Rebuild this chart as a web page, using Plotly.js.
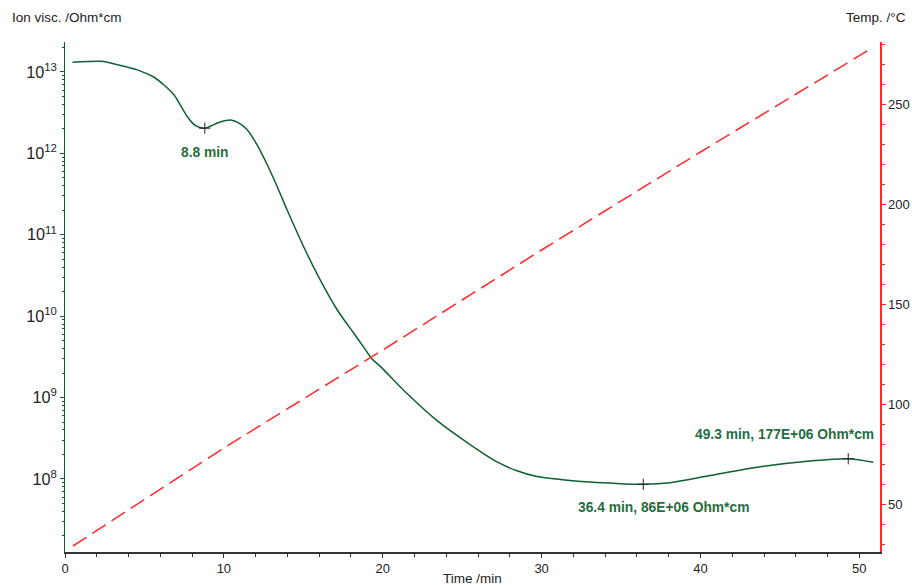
<!DOCTYPE html>
<html>
<head>
<meta charset="utf-8">
<script src="https://cdn.plot.ly/plotly-3.0.1.min.js"></script>
<style>html,body{margin:0;padding:0;background:#fff;}#chart{width:912px;height:585px;}</style>
</head>
<body>
<div id="chart"></div>
<script>
// Ion viscosity curve (time in min, ion viscosity in Ohm*cm)
var timeIV = [0.47,2.25,2.67,3.71,4.55,5.6,6.23,6.86,7.7,8.22,8.8,9.69,10.42,11.05,11.47,12.1,12.73,13.36,13.99,15.03,16.08,17.13,17.55,18.18,18.8,19.3,19.86,21.53,23.42,25.52,27.2,28.45,29.71,31.3,33.27,34.3,36.4,38.1,40.6,43.75,46.9,49.3,50.88];
var ionVisc = [1.32e13,1.35e13,1.32e13,1.175e13,1.06e13,8.61e12,6.92e12,5.25e12,2.82e12,2.19e12,2.04e12,2.40e12,2.57e12,2.29e12,1.95e12,1.26e12,7.24e11,3.89e11,2.0e11,7.08e10,2.75e10,1.20e10,9.1e9,6.17e9,4.17e9,3.02e9,2.40e9,1.12e9,5.2e8,2.63e8,1.62e8,1.26e8,1.07e8,9.8e7,9.1e7,8.9e7,8.6e7,9.0e7,1.10e8,1.41e8,1.66e8,1.77e8,1.60e8];

// Temperature ramp
var timeT = [0.5,10,20,30,40,50.8];
var temp = [29,78,127,177,226,278];

// Marked points
var markTime = [8.8,36.4,49.3];
var markVisc = [2.04e12,8.6e7,1.77e8];
var markLabels = ["8.8 min","36.4 min, 86E+06 Ohm*cm","49.3 min, 177E+06 Ohm*cm"];

var green = '#0f5f32';
var textGreen = '#1f6e3d';
var font = 'Liberation Sans, Arial, sans-serif';

// minor tick positions for log axis (2..9 per decade)
var logMinor = [];
for (var e = 7; e <= 13; e++) { for (var m = 2; m <= 9; m++) { logMinor.push(m * Math.pow(10, e)); } }

var traces = [
  {x: timeIV, y: ionVisc, type:'scatter', mode:'lines', line:{color:green, width:1.5, shape:'spline', smoothing:0.8}, yaxis:'y', hoverinfo:'none'},
  {x: timeT, y: temp, type:'scatter', mode:'lines', line:{color:'#ff2a2a', width:1.5, dash:'16px,7px'}, yaxis:'y2', hoverinfo:'none'},
  {x: markTime, y: markVisc, type:'scatter', mode:'markers', marker:{symbol:'cross-thin', size:8, color:'#222', line:{color:'#222', width:1}}, yaxis:'y', hoverinfo:'none'},
  {x: [null], y: [null], type:'scatter', mode:'lines', yaxis:'y3', hoverinfo:'none'}
];

var shifts = [[0,-24],[20,-23],[-64,24]];
var annotations = markLabels.map(function(t,i){
  return {x: markTime[i], y: Math.log10(markVisc[i]), xref:'x', yref:'y', text: t, showarrow:false,
    xshift: shifts[i][0], yshift: shifts[i][1], xanchor:'center', yanchor:'middle',
    font:{family:font, size:13.8, color:textGreen, weight:'bold'}};
});
annotations.push({xref:'paper', yref:'paper', x:-0.0675, y:1.049, xanchor:'left', yanchor:'middle', text:'Ion visc. /Ohm*cm', showarrow:false, font:{family:font, size:13.5, color:'#222'}});
annotations.push({xref:'paper', yref:'paper', x:1.0344, y:1.049, xanchor:'right', yanchor:'middle', text:'Temp. /°C', showarrow:false, font:{family:font, size:13.5, color:'#222'}});
annotations.push({xref:'paper', yref:'paper', x:0.5006, y:-0.052, xanchor:'center', yanchor:'middle', text:'Time /min', showarrow:false, font:{family:font, size:13.5, color:'#222'}});

var yRange = [7.103,13.368];
var layout = {
  width:912, height:585,
  margin:{l:65, r:32, t:42, b:33},
  paper_bgcolor:'#fff', plot_bgcolor:'#fff',
  showlegend:false,
  font:{family:font, size:13, color:'#222'},
  xaxis:{range:[0,51.3], dtick:10, tick0:0, ticks:'outside', ticklen:4, tickcolor:'#333', showline:true, linecolor:'#333', linewidth:1.5, showgrid:false, zeroline:false,
    minor:{dtick:2, ticks:'outside', ticklen:3, tickcolor:'#333'}},
  yaxis:{type:'log', range:yRange, dtick:1, exponentformat:'power', ticks:'outside', ticklen:4, tickcolor:green, showline:true, linecolor:green, linewidth:1.5, showgrid:false, zeroline:false},
  yaxis3:{type:'log', range:yRange, overlaying:'y', side:'left', anchor:'x', tickmode:'array', tickvals:logMinor, ticks:'outside', ticklen:2, tickcolor:green, showticklabels:false, showline:false, showgrid:false, zeroline:false},
  yaxis2:{overlaying:'y', side:'right', range:[26,281], dtick:50, tick0:0, ticks:'outside', ticklen:4, tickcolor:'#ff2a2a', showline:true, linecolor:'#ff2a2a', linewidth:1.5, showgrid:false, zeroline:false,
    minor:{dtick:10, ticks:'outside', ticklen:3, tickcolor:'#ff2a2a'}},
  annotations: annotations
};

Plotly.newPlot('chart', traces, layout, {staticPlot:true, displayModeBar:false});
</script>
</body>
</html>
